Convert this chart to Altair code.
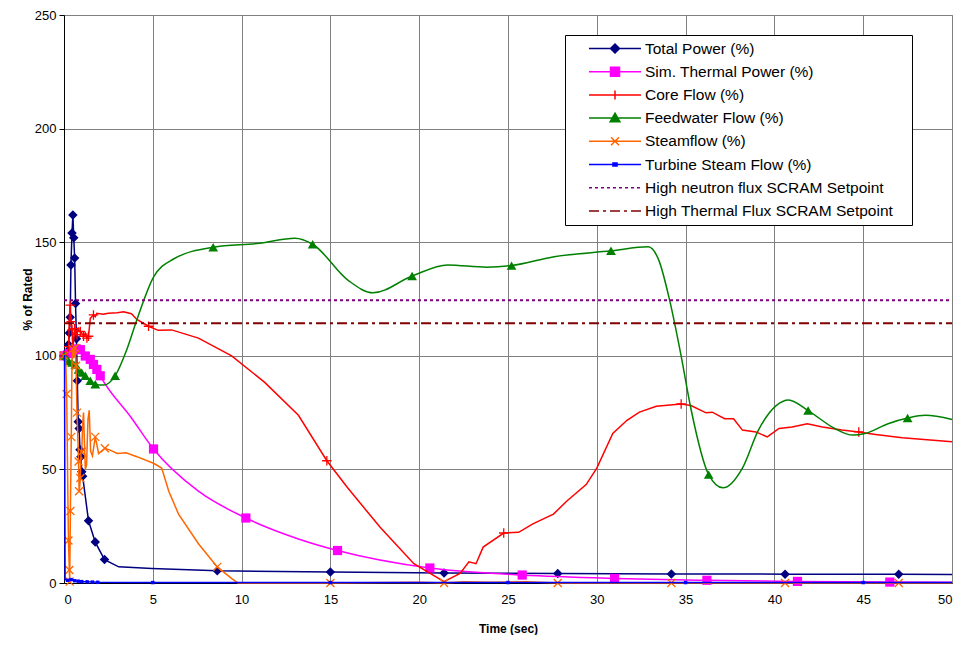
import altair as alt
import pandas as pd

# ---------------- data ----------------
series_names = [
    "Total Power (%)",
    "Sim. Thermal Power (%)",
    "Core Flow (%)",
    "Feedwater Flow (%)",
    "Steamflow (%)",
    "Turbine Steam Flow (%)",
    "High neutron flux SCRAM Setpoint",
    "High Thermal Flux SCRAM Setpoint",
]
series_colors = ["#000080", "#FF00FF", "#FF0000", "#008000", "#FF6600", "#0000FF", "#800080", "#800000"]

tp_t = [0, 0.1, 0.2, 0.25, 0.3, 0.35, 0.39, 0.45, 0.5, 0.55, 0.6, 0.65, 0.7, 0.75, 0.8, 0.85, 0.9,
        0.95, 1.0, 1.05, 1.38, 1.76, 2.28, 3.08, 4.95, 8.63, 15.0, 21.4, 27.8, 34.2, 40.6, 47.0, 50.0]
tp_v = [100, 100.5, 102, 105, 110, 117, 140, 154, 162, 152, 143, 123, 107.5, 89, 71, 68, 58.7,
        55.6, 49, 47, 27.4, 18, 10.3, 7.1, 6.4, 5.4, 4.8, 4.4, 4.2, 4.0, 3.9, 3.8, 3.7]
tp_m = [0, 0.1, 0.2, 0.25, 0.3, 0.35, 0.39, 0.45, 0.5, 0.55, 0.6, 0.65, 0.7, 0.75, 0.8, 0.85, 0.9,
        0.95, 1.0, 1.05, 1.38, 1.76, 2.28, 8.63, 15.0, 21.4, 27.8, 34.2, 40.6, 47.0]

st_t = [0, 0.3, 0.5, 0.7, 0.92, 1.2, 1.48, 1.66, 1.85, 2.04, 3.83, 5.04, 7.57, 10.24, 13.2, 15.4,
        20.6, 25.8, 31.0, 36.2, 41.3, 46.5, 50]
st_v = [100, 101, 102.5, 103, 102.7, 99.9, 98.4, 96.2, 94, 91.2, 72.3, 59, 40.4, 28.6, 19.4, 14.3,
        6.6, 3.5, 2.0, 1.2, 0.7, 0.4, 0.3]
st_m = [0, 0.3, 0.5, 0.7, 0.92, 1.2, 1.48, 1.66, 1.85, 2.04, 5.04, 10.24, 15.4, 20.6, 25.8, 31.0,
        36.2, 41.3, 46.5]

cf_t = [0, 0.1, 0.2, 0.26, 0.3, 0.35, 0.4, 0.45, 0.5, 0.55, 0.6, 0.65, 0.73, 0.8, 0.85, 0.92, 1.0,
        1.1, 1.2, 1.29, 1.38, 1.48, 1.66, 1.76, 1.85, 2.2, 2.5, 3.0, 3.35, 3.8, 4.1, 4.76, 5.3, 6.06,
        7.57, 9.44, 11.3, 13.2, 14.8, 15.97, 17.8, 19.7, 21.4, 22.3, 22.8, 23.2, 23.6, 24.76, 25.6,
        26.4, 27.56, 28.3, 29.4, 30.0, 30.9, 31.7, 32.4, 33.35, 34.75, 35.3, 36.15, 36.5, 37.2, 37.7,
        38.2, 38.96, 39.6, 40.26, 41.0, 41.85, 42.7, 43.8, 44.75, 45.7, 47.2, 50.0]
cf_v = [100, 100.5, 102, 104, 117, 122.3, 115, 111.4, 104, 107, 112, 110, 109.3, 112.5, 111, 110.7,
        110, 108.6, 110, 107.8, 108.6, 116.5, 118, 117.2, 118.7, 118.3, 118.7, 119, 119.4, 118.5,
        116, 113, 111.2, 111.4, 107.8, 100, 88.3, 73.8, 53.8, 41.9, 24.5, 8.5, 0.6, 4.2, 9.3, 8.5,
        15.8, 22, 22.3, 26, 30.3, 36, 43.3, 50.6, 65.8, 71.6, 75.2, 77.8, 78.8, 78.1, 74.9, 75.2,
        72.3, 72.3, 67.3, 66.5, 64.3, 68, 68.7, 70.1, 68.7, 67.3, 66.5, 65.4, 63.9, 62.2]
cf_m = [0, 0.26, 0.35, 0.4, 0.45, 0.6, 0.73, 0.92, 1.1, 1.29, 1.38, 1.66, 4.76, 14.8, 24.76, 34.75, 44.75]

fw_t = [0, 0.26, 0.45, 0.63, 0.82, 1.0, 1.2, 1.48, 1.76, 2.22, 2.88, 3.5, 4.1, 5.04, 6.17, 8.4, 11.0,
        13.0, 14.0, 16.0, 17.4, 19.6, 21.6, 23.8, 25.2, 27.6, 30.8, 32.9, 33.5, 34.1, 34.75, 35.3,
        36.3, 37.1, 38.2, 39.1, 40.1, 40.8, 41.9, 43.4, 44.4, 45.1, 46.4, 47.5, 48.5, 50.0]
fw_v = [100, 97.7, 97, 96.2, 94, 92.6, 91.2, 89, 87.5, 87.1, 91.2, 102, 115.8, 134.6, 142.6, 147.8,
        149.5, 151.7, 149.1, 133.2, 127.7, 135.1, 140, 139, 139.7, 143.6, 146.2, 148, 141.9, 124.5,
        99.9, 76.7, 47.7, 41.9, 50.6, 67.3, 78.1, 80.6, 75.9, 68, 65.1, 65.8, 70.1, 72.6, 73.8, 72]
fw_m = [0, 0.26, 0.45, 0.63, 0.82, 1.0, 1.2, 1.48, 1.76, 2.88, 8.4, 14.0, 19.6, 25.2, 30.8, 36.3,
        41.9, 47.5]

sf_t = [0, 0.05, 0.1, 0.15, 0.2, 0.25, 0.3, 0.32, 0.36, 0.41, 0.45, 0.5, 0.55, 0.63, 0.68, 0.73,
        0.78, 0.82, 0.85, 0.88, 0.92, 0.96, 1.0, 1.05, 1.1, 1.15, 1.2, 1.27, 1.35, 1.42, 1.5, 1.6,
        1.76, 1.95, 2.1, 2.3, 2.6, 3.0, 3.5, 4.1, 5.04, 5.5, 5.9, 6.45, 7.57, 8.63, 9.43, 9.8, 15.0,
        20.0, 21.4, 22.5, 24.0, 26.0, 27.8, 34.2, 40.6, 47.0, 50.0]
sf_v = [100, 99, 97, 83.2, 50, 18.7, 5.7, 0.6, 31.7, 64.3, 98, 103, 99, 103.5, 95.6, 75, 64, 53.5,
        40.4, 42, 46.2, 58, 57.8, 70, 75, 62, 50, 52, 72, 76, 58, 56, 64.3, 57, 58, 59.3, 58.5, 57,
        57.3, 55.6, 52.7, 50.6, 40.4, 30.3, 17.3, 7.1, 2, 0, 0, 0.3, 0, 0.5, 0.3, 0.5, 0, 0, 0, 0, 0]
sf_m = [0, 0.15, 0.25, 0.3, 0.32, 0.36, 0.41, 0.5, 0.63, 0.68, 0.73, 0.82, 0.85, 0.92, 1.0, 1.76,
        2.3, 8.63, 15.0, 21.4, 27.8, 34.2, 40.6, 47.0]

tb_t = [0, 0.03, 0.06, 0.2, 0.4, 0.6, 0.8, 1.0, 1.3, 1.6, 1.9, 5, 15, 25, 35, 45, 50]
tb_v = [100, 100, 1.5, 1.2, 1.5, 1.0, 0.8, 0.6, 0.5, 0.4, 0.3, 0.2, 0.2, 0.2, 0.2, 0.2, 0.2]
tb_m = [0.2, 0.4, 0.6, 0.8, 1.0, 1.3, 1.6, 1.9, 5, 15, 25, 35, 45]

sp_t = [0, 50]
neutron_setpoint = [124.5, 124.5]
thermal_setpoint = [114.3, 114.3]

x_ticks = [0, 5, 10, 15, 20, 25, 30, 35, 40, 45, 50]
y_ticks = [0, 50, 100, 150, 200, 250]

# ---------------- chart ----------------
FONT = "Liberation Sans"
W, H = 888, 568

x_enc = alt.X("t:Q", scale=alt.Scale(domain=[0, 50], nice=False, zero=False),
              axis=alt.Axis(values=x_ticks, title="Time (sec)", tickSize=0, labelPadding=10,
                            titlePadding=17))
y_enc = alt.Y("v:Q", scale=alt.Scale(domain=[0, 250], nice=False),
              axis=alt.Axis(values=y_ticks, title="% of Rated", tickSize=5, labelPadding=3,
                            titlePadding=0))


def frame(t, v):
    return pd.DataFrame({"t": t, "v": v})


def marks(t, v, m):
    df = frame(t, v)
    return df[df["t"].isin(m)]


def line(t, v, color, interp="linear", width=1.5, dash=None):
    kw = dict(color=color, strokeWidth=width, interpolate=interp)
    if dash:
        kw["strokeDash"] = dash
    return alt.Chart(frame(t, v)).mark_line(**kw).encode(x=x_enc, y=y_enc)


def pts(t, v, m, color, shape, size, filled=True, width=1.0):
    return alt.Chart(marks(t, v, m)).mark_point(
        shape=shape, size=size, filled=filled, color=color, opacity=1, strokeWidth=width
    ).encode(x=x_enc, y=y_enc)


XSHAPE = "M-1,-1L1,1M-1,1L1,-1"
PLUS = "M-1,0L1,0M0,-1L0,1"

layers = [
    line(tp_t, tp_v, series_colors[0]),
    pts(tp_t, tp_v, tp_m, series_colors[0], "diamond", 90),
    line(st_t, st_v, series_colors[1], "monotone"),
    pts(st_t, st_v, st_m, series_colors[1], "square", 85),
    line(cf_t, cf_v, series_colors[2]),
    pts(cf_t, cf_v, cf_m, series_colors[2], PLUS, 90, filled=False, width=1.3),
    line(fw_t, fw_v, series_colors[3], "monotone"),
    pts(fw_t, fw_v, fw_m, series_colors[3], "triangle-up", 95),
    line(sf_t, sf_v, series_colors[4]),
    pts(sf_t, sf_v, sf_m, series_colors[4], XSHAPE, 64, filled=False, width=1.3),
    line(tb_t, tb_v, series_colors[5]),
    pts(tb_t, tb_v, tb_m, series_colors[5], "square", 12),
    line(sp_t, neutron_setpoint, series_colors[6], width=2, dash=[3, 3]),
    line(sp_t, thermal_setpoint, series_colors[7], width=2, dash=[10, 4, 3, 4]),
]

# ---- legend symbols: line + marker drawn as one custom path ----
S = 7.5                   # px per path unit for symbolSize 225
SHIFT = 18                # px the sample line starts right of the symbol column
LEN = 52                  # px length of the sample line
L0 = -1.0 + SHIFT / S
L1 = L0 + LEN / S
C = L0 + LEN / 2 / S      # marker centre


def f(a):
    return f"{a:.3f}"


def seg_line():
    return f"M{f(L0)},0H{f(L1)}"


def dashed(pattern):
    out, a, i = [], L0 * S, 0
    end = L1 * S
    while a < end:
        d = pattern[i % len(pattern)]
        if i % 2 == 0:
            out.append(f"M{f(a / S)},0H{f(min(a + d, end) / S)}")
        a += d
        i += 1
    return "".join(out)


r = 0.6
legend_paths = [
    seg_line() + f"M{f(C - r)},0L{f(C)},{f(-r)}L{f(C + r)},0L{f(C)},{f(r)}Z",
    seg_line() + f"M{f(C - r)},{f(-r)}H{f(C + r)}V{f(r)}H{f(C - r)}Z",
    seg_line() + f"M{f(C)},{f(-r)}V{f(r)}",
    seg_line() + f"M{f(C)},{f(-0.65)}L{f(C + 0.65)},{f(0.5)}L{f(C - 0.65)},{f(0.5)}Z",
    seg_line() + f"M{f(C - 0.53)},{f(-0.53)}L{f(C + 0.53)},{f(0.53)}M{f(C - 0.53)},{f(0.53)}L{f(C + 0.53)},{f(-0.53)}",
    seg_line() + f"M{f(C - 0.27)},{f(-0.2)}H{f(C + 0.27)}V{f(0.2)}H{f(C - 0.27)}Z",
    dashed([3, 3]),
    dashed([10, 4, 3, 4]),
]

leg = alt.Legend(
    title=" ", titleOrient="right", titlePadding=14, titleFontSize=4,
    orient="none", legendX=501, legendY=20, labelFont=FONT, labelFontSize=15.5,
    labelColor="black", symbolSize=225, symbolStrokeWidth=1.5, symbolOpacity=1,
    rowPadding=6.2, padding=5, strokeColor="black", fillColor="white",
    labelOffset=SHIFT + LEN + 3 - 15, labelLimit=400,
)
legend_layer = alt.Chart(pd.DataFrame({"series": series_names})).mark_point(
    filled=True, size=225
).encode(
    fill=alt.Fill("series:N", scale=alt.Scale(domain=series_names, range=series_colors), legend=leg),
    stroke=alt.Stroke("series:N", scale=alt.Scale(domain=series_names, range=series_colors), legend=leg),
    shape=alt.Shape("series:N", scale=alt.Scale(domain=series_names, range=legend_paths), legend=leg),
).transform_filter("datum.series == 'none'")

chart = alt.layer(*layers, legend_layer).properties(
    width=W, height=H,
    autosize=alt.AutoSizeParams(type="none"),
    padding={"left": 56, "top": 7, "right": 6, "bottom": 52},
).configure_view(
    stroke="#808080", strokeWidth=1
).configure_axis(
    labelFont=FONT, labelFontSize=13, labelColor="black", titleFont=FONT, titleFontSize=12,
    titleFontWeight="bold", titleColor="black", domainColor="black", tickColor="black",
    gridColor="#808080", gridOpacity=1, gridWidth=1, grid=True,
)

chart.save("out.html", embed_options={"renderer": "svg", "actions": False})
